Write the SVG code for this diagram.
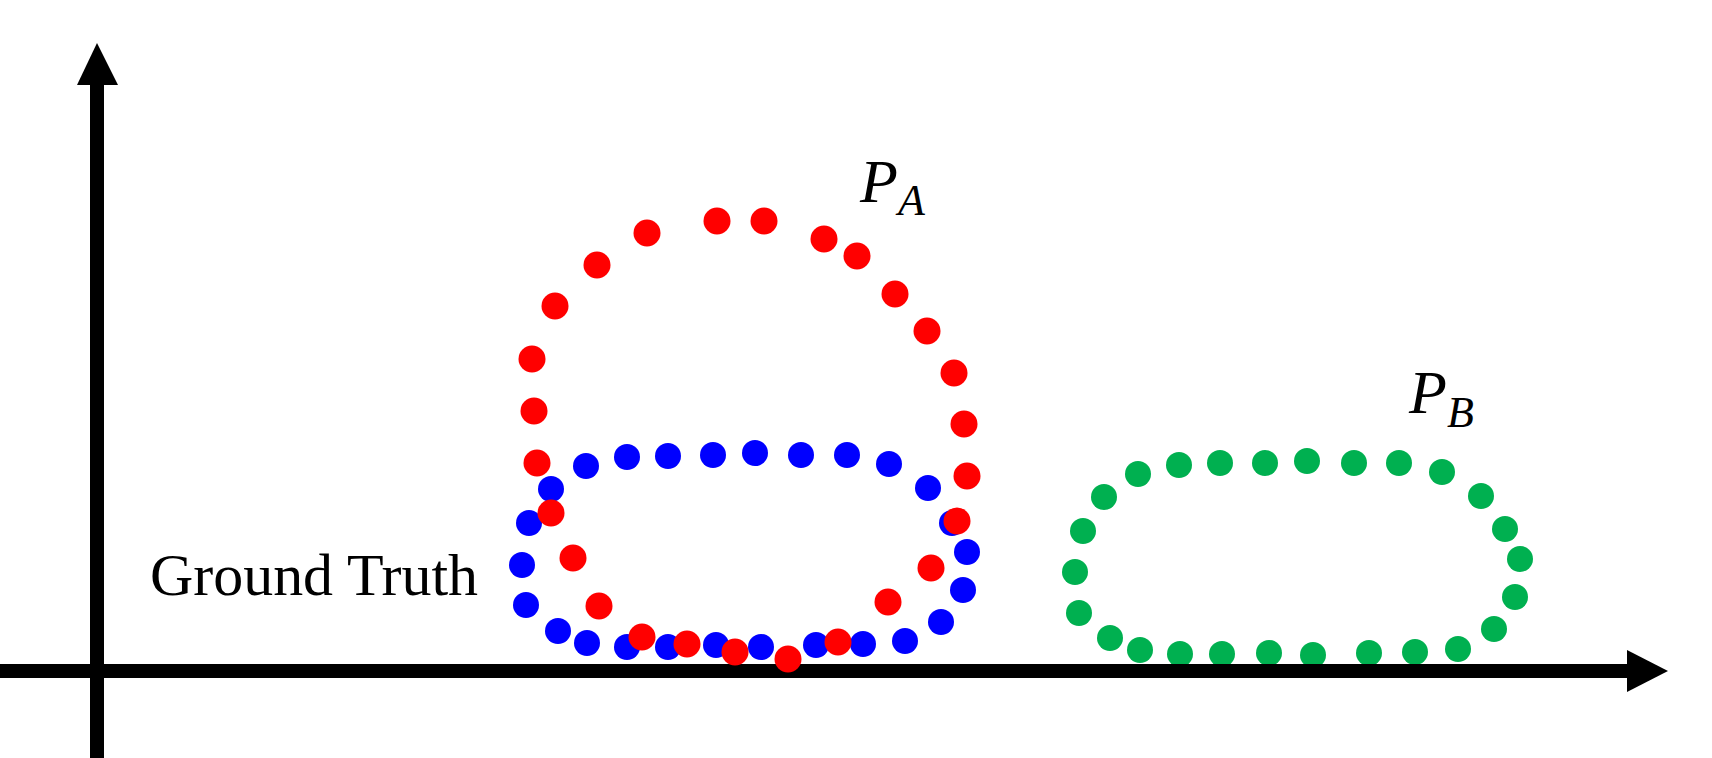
<svg xmlns="http://www.w3.org/2000/svg" width="1712" height="758" viewBox="0 0 1712 758">
<style>
.r{fill:#FF0000}.b{fill:#0000FF}.g{fill:#00B050}
.ax{stroke:#000;stroke-width:14;fill:none}
.lbl{font-family:"Liberation Serif",serif;fill:#000}
.math{font-family:"Liberation Serif",serif;font-style:italic;fill:#000}
</style>
<rect width="1712" height="758" fill="#fff"/>
<g id="PB">
<g class="g">
<circle cx="1138" cy="474" r="13"/><circle cx="1179" cy="465" r="13"/><circle cx="1220" cy="463" r="13"/><circle cx="1265" cy="463" r="13"/><circle cx="1307" cy="461" r="13"/><circle cx="1354" cy="463" r="13"/><circle cx="1399" cy="463" r="13"/><circle cx="1442" cy="472" r="13"/><circle cx="1481" cy="496" r="13"/><circle cx="1505" cy="529" r="13"/><circle cx="1520" cy="559" r="13"/><circle cx="1515" cy="597" r="13"/><circle cx="1494" cy="629" r="13"/><circle cx="1458" cy="649" r="13"/><circle cx="1415" cy="652" r="13"/><circle cx="1369" cy="653" r="13"/><circle cx="1313" cy="655" r="13"/><circle cx="1269" cy="653" r="13"/><circle cx="1222" cy="654" r="13"/><circle cx="1180" cy="654" r="13"/><circle cx="1140" cy="650" r="13"/><circle cx="1110" cy="638" r="13"/><circle cx="1079" cy="613" r="13"/><circle cx="1075" cy="572" r="13"/><circle cx="1083" cy="531" r="13"/><circle cx="1104" cy="497" r="13"/>
</g>
<text class="math" x="1409" y="413" font-size="62">P<tspan font-size="44" dy="14">B</tspan></text>
</g>
<g id="axes">
<line class="ax" x1="97" y1="758" x2="97" y2="82"/>
<polygon points="97,43 77,85 118,85" fill="#000"/>
<line class="ax" x1="0" y1="671" x2="1630" y2="671"/>
<polygon points="1668,671 1627,650 1627,692" fill="#000"/>
</g>
<g id="GT">
<g class="b">
<circle cx="586" cy="466" r="13"/><circle cx="627" cy="457" r="13"/><circle cx="668" cy="456" r="13"/><circle cx="713" cy="455" r="13"/><circle cx="755" cy="453" r="13"/><circle cx="801" cy="455" r="13"/><circle cx="847" cy="455" r="13"/><circle cx="889" cy="464" r="13"/><circle cx="928" cy="488" r="13"/><circle cx="952" cy="523" r="13"/><circle cx="967" cy="552" r="13"/><circle cx="963" cy="590" r="13"/><circle cx="941" cy="622" r="13"/><circle cx="905" cy="641" r="13"/><circle cx="863" cy="644" r="13"/><circle cx="816" cy="645" r="13"/><circle cx="761" cy="647" r="13"/><circle cx="716" cy="645" r="13"/><circle cx="668" cy="647" r="13"/><circle cx="627" cy="647" r="13"/><circle cx="587" cy="643" r="13"/><circle cx="558" cy="631" r="13"/><circle cx="526" cy="605" r="13"/><circle cx="522" cy="565" r="13"/><circle cx="529" cy="523" r="13"/><circle cx="551" cy="489" r="13"/>
</g>
<text class="lbl" x="150" y="595" font-size="60" textLength="328" lengthAdjust="spacingAndGlyphs">Ground Truth</text>
</g>
<g id="PA">
<g class="r">
<circle cx="647" cy="233" r="13.5"/><circle cx="717" cy="221" r="13.5"/><circle cx="764" cy="221" r="13.5"/><circle cx="824" cy="239" r="13.5"/><circle cx="857" cy="256" r="13.5"/><circle cx="895" cy="294" r="13.5"/><circle cx="927" cy="331" r="13.5"/><circle cx="954" cy="373" r="13.5"/><circle cx="964" cy="424" r="13.5"/><circle cx="597" cy="265" r="13.5"/><circle cx="555" cy="306" r="13.5"/><circle cx="532" cy="359" r="13.5"/><circle cx="534" cy="411" r="13.5"/>
<circle cx="537" cy="463" r="13.5"/><circle cx="967" cy="476" r="13.5"/><circle cx="551" cy="513" r="13.5"/><circle cx="957" cy="521" r="13.5"/><circle cx="573" cy="558" r="13.5"/><circle cx="931" cy="568" r="13.5"/><circle cx="599" cy="606" r="13.5"/><circle cx="888" cy="602" r="13.5"/><circle cx="642" cy="637" r="13.5"/><circle cx="687" cy="644" r="13.5"/><circle cx="735" cy="652" r="13.5"/><circle cx="788" cy="659" r="13.5"/><circle cx="838" cy="642" r="13.5"/>
</g>
<text class="math" x="860" y="202" font-size="62">P<tspan font-size="44" dy="13">A</tspan></text>
</g>
</svg>
